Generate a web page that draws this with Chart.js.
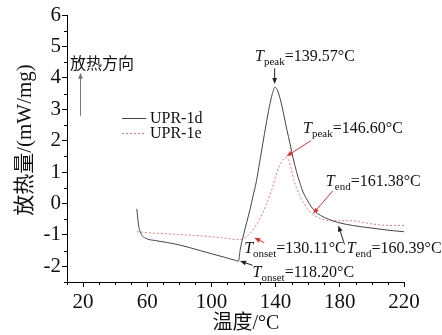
<!DOCTYPE html>
<html>
<head>
<meta charset="utf-8">
<script src="https://cdn.jsdelivr.net/npm/chart.js@4.4.1/dist/chart.umd.min.js"></script>
<style>
  html, body { margin: 0; padding: 0; background: #fff; }
  #wrap { width: 442px; height: 335px; position: relative; }
</style>
</head>
<body>
<div id="wrap"><canvas id="c"></canvas></div>
<script>
// DSC curves: temperature (°C) vs heat flow (mW/mg)
const tempD = [53.5, 54.5, 56, 58.8, 65, 72, 80, 93, 100, 108, 112, 115, 116.8, 118, 120, 122, 124, 126, 128, 130, 132, 134, 136, 138, 139.6, 141, 143, 145, 147, 149, 151, 153, 155, 157, 160, 164, 168, 173, 178.5, 188, 199.4, 210, 220];
const heatD = [-0.17, -0.65, -0.95, -1.1, -1.18, -1.24, -1.32, -1.5, -1.6, -1.71, -1.77, -1.81, -1.84, -1.45, -1.0, -0.6, -0.2, 0.25, 0.7, 1.3, 1.9, 2.5, 3.05, 3.5, 3.7, 3.62, 3.3, 2.85, 2.35, 1.9, 1.42, 1.02, 0.68, 0.38, 0.08, -0.22, -0.38, -0.5, -0.6, -0.7, -0.78, -0.85, -0.9];
const tempE = [53.5, 60, 70, 80, 90, 100, 110, 116, 119, 122, 125, 128, 130, 132, 134, 136, 138, 140, 142, 144, 145.5, 146.6, 148, 149.5, 151.4, 153, 155, 157.7, 160, 162, 164, 168, 174, 180, 188, 194, 200, 210, 220];
const heatE = [-0.9, -0.93, -0.96, -0.99, -1.02, -1.06, -1.11, -1.15, -1.14, -1.05, -0.9, -0.68, -0.5, -0.3, -0.05, 0.2, 0.5, 0.85, 1.15, 1.35, 1.44, 1.47, 1.4, 1.15, 0.74, 0.5, 0.25, 0, -0.18, -0.3, -0.38, -0.48, -0.55, -0.55, -0.55, -0.6, -0.65, -0.7, -0.7];
const seriesNames = ['UPR-1d', 'UPR-1e'];
const xTicks = [20, 60, 100, 140, 180, 220];
const yTicks = [-2, -1, 0, 1, 2, 3, 4, 5, 6];
const xTitle = '温度/°C';
const yTitle = '放热量/(mW/mg)';
const dirLabel = '放热方向';

// annotation labels (text) and where they sit, in data units
const notes = [
  { sub: 'peak', val: '=139.57°C', tx: 127.2, ty: 4.52, color: '#222', from: [139.4, 4.3], to: [139.4, 3.8] },
  { sub: 'peak', val: '=146.60°C', tx: 157.1, ty: 2.24, color: '#e03030', from: [162, 2.0], to: [146.8, 1.5] },
  { sub: 'end', val: '=161.38°C', tx: 171.3, ty: 0.55, color: '#e03030', from: [175.6, 0.4], to: [163.3, -0.33] },
  { sub: 'end', val: '=160.39°C', tx: 184.3, ty: -1.58, color: '#222', from: [182.4, -1.22], to: [179.1, -0.7] },
  { sub: 'onset', val: '=130.11°C', tx: 120.4, ty: -1.59, color: '#e03030', from: [133, -1.25], to: [126.7, -1.09] },
  { sub: 'onset', val: '=118.20°C', tx: 125.6, ty: -2.33, color: '#222', from: [125.7, -1.97], to: [117.8, -1.83] },
];

const FONT = "'Liberation Serif', 'Noto Sans CJK SC', serif";
const lineColors = ['#444444', 'rgba(228,90,90,0.8)'];

function arrow(ctx, x1, y1, x2, y2, color, head) {
  const a = Math.atan2(y2 - y1, x2 - x1);
  ctx.save();
  ctx.strokeStyle = color; ctx.fillStyle = color; ctx.lineWidth = 1;
  ctx.beginPath(); ctx.moveTo(x1, y1); ctx.lineTo(x2 - Math.cos(a) * head * 0.6, y2 - Math.sin(a) * head * 0.6); ctx.stroke();
  ctx.beginPath();
  ctx.moveTo(x2, y2);
  ctx.lineTo(x2 - head * Math.cos(a) + head * 0.4 * Math.sin(a), y2 - head * Math.sin(a) - head * 0.4 * Math.cos(a));
  ctx.lineTo(x2 - head * Math.cos(a) - head * 0.4 * Math.sin(a), y2 - head * Math.sin(a) + head * 0.4 * Math.cos(a));
  ctx.closePath(); ctx.fill();
  ctx.restore();
}

const extras = {
  id: 'extras',
  afterDraw(chart) {
    const { ctx, scales: { x, y } } = chart;
    const px = v => x.getPixelForValue(v), py = v => y.getPixelForValue(v);
    ctx.save();
    // minor ticks
    ctx.strokeStyle = '#000'; ctx.lineWidth = 1;
    ctx.beginPath();
    for (let t = 10; t <= 220; t += 10) {
      if (xTicks.includes(t)) continue;
      const X = Math.round(px(t)) + 0.5;
      ctx.moveTo(X, y.bottom); ctx.lineTo(X, y.bottom + 3);
    }
    for (let v = -2.5; v <= 6; v += 0.5) {
      if (yTicks.includes(v)) continue;
      const Y = Math.round(py(v)) + 0.5;
      ctx.moveTo(x.left, Y); ctx.lineTo(x.left - 3, Y);
    }
    ctx.stroke();

    // axis titles
    ctx.fillStyle = '#111';
    ctx.font = '20px ' + FONT;
    ctx.textAlign = 'center'; ctx.textBaseline = 'middle';
    ctx.fillText(xTitle, 246, 324);
    ctx.save();
    ctx.translate(25, 140); ctx.rotate(-Math.PI / 2);
    ctx.font = '21px ' + FONT;
    ctx.fillText(yTitle, 0, 0);
    ctx.restore();

    // exotherm direction
    ctx.font = '16px ' + FONT;
    ctx.textAlign = 'left'; ctx.textBaseline = 'alphabetic';
    ctx.fillText(dirLabel, px(11.9), py(4.28));
    arrow(ctx, px(18.1) + 0.5, py(2.79), px(18.1) + 0.5, py(4.16), '#777', 6);

    // legend
    chart.data.datasets.forEach((ds, i) => {
      const Y = Math.round(py(2.72 - i * 0.48)) + 0.5;
      ctx.strokeStyle = ds.borderColor; ctx.lineWidth = 1;
      ctx.setLineDash(ds.borderDash || []);
      ctx.beginPath(); ctx.moveTo(px(44.3), Y); ctx.lineTo(px(59.3), Y); ctx.stroke();
      ctx.setLineDash([]);
      ctx.fillStyle = '#111'; ctx.font = '16px ' + FONT; ctx.textBaseline = 'middle';
      ctx.fillText(ds.label, px(61.7), Y);
    });

    // T annotations
    ctx.textBaseline = 'alphabetic';
    notes.forEach(n => {
      let X = px(n.tx); const Y = py(n.ty);
      ctx.fillStyle = '#111';
      ctx.font = 'italic 16px ' + FONT; ctx.fillText('T', X, Y); X += ctx.measureText('T').width;
      ctx.font = '11px ' + FONT; ctx.fillText(n.sub, X, Y + 4); X += ctx.measureText(n.sub).width;
      ctx.font = '16px ' + FONT; ctx.fillText(n.val, X, Y);
      arrow(ctx, px(n.from[0]), py(n.from[1]), px(n.to[0]), py(n.to[1]), n.color, 6);
    });
    ctx.restore();
  }
};

new Chart(document.getElementById('c'), {
  type: 'line',
  data: {
    datasets: [
      { label: seriesNames[0], data: tempD.map((t, i) => ({ x: t, y: heatD[i] })), borderColor: lineColors[0], borderWidth: 1, pointRadius: 0, cubicInterpolationMode: 'monotone', fill: false },
      { label: seriesNames[1], data: tempE.map((t, i) => ({ x: t, y: heatE[i] })), borderColor: lineColors[1], borderWidth: 1, borderDash: [2, 2], pointRadius: 0, cubicInterpolationMode: 'monotone', fill: false },
    ]
  },
  options: {
    responsive: true, maintainAspectRatio: false, animation: false,
    layout: { padding: { left: 0, right: 38, top: 15, bottom: 0 } },
    plugins: { legend: { display: false }, tooltip: { enabled: false } },
    scales: {
      x: {
        type: 'linear', min: 10, max: 220,
        afterBuildTicks: s => { s.ticks = xTicks.map(v => ({ value: v })); },
        afterFit: s => { s.height = 53; },
        grid: { drawOnChartArea: false, drawTicks: true, tickLength: 5, color: '#000' },
        border: { color: '#000', width: 1 },
        ticks: { color: '#111', font: { family: FONT, size: 21 }, padding: 3, maxRotation: 0 },
      },
      y: {
        min: -2.5, max: 6,
        afterBuildTicks: s => { s.ticks = yTicks.map(v => ({ value: v })); },
        afterFit: s => { s.width = 67; },
        grid: { drawOnChartArea: false, drawTicks: true, tickLength: 5, color: '#000' },
        border: { color: '#000', width: 1 },
        ticks: { color: '#111', font: { family: FONT, size: 21 }, padding: 1 },
      },
    },
  },
  plugins: [extras],
});
</script>
</body>
</html>
